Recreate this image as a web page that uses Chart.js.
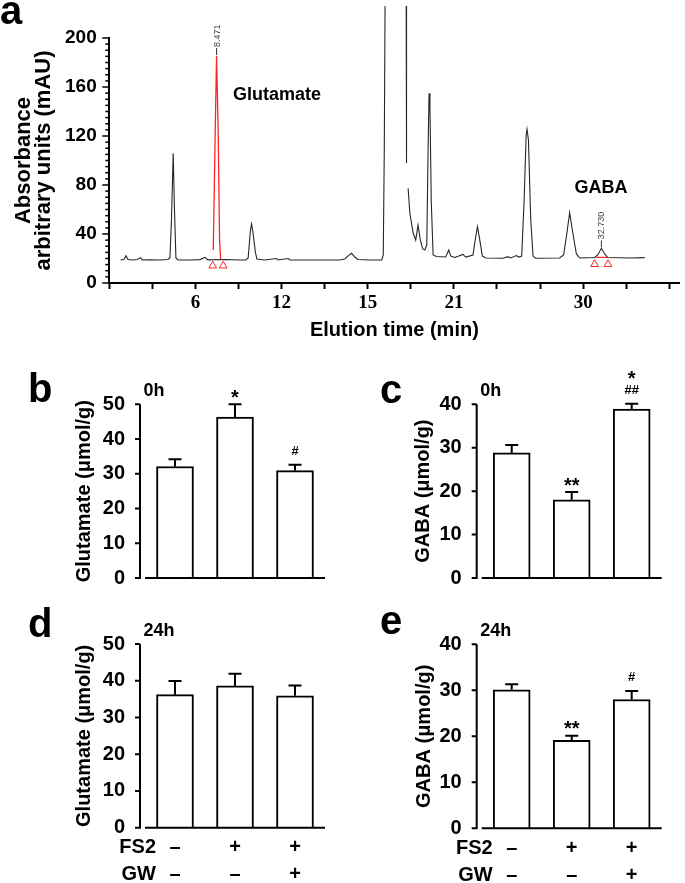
<!DOCTYPE html>
<html>
<head>
<meta charset="utf-8">
<script src="https://cdn.jsdelivr.net/npm/chart.js@4.4.1/dist/chart.umd.min.js"></script>
<style>
  html, body { margin: 0; padding: 0; background: #fff; }
  #fig { position: relative; width: 685px; height: 883px; overflow: hidden; background: #fff; }
  #fig canvas { position: absolute; }
</style>
</head>
<body>
<div id="fig">
  <canvas id="chartA" width="685" height="345" style="left:0;top:0"></canvas>
  <canvas id="chartB" width="340" height="250" style="left:0;top:360px"></canvas>
  <canvas id="chartC" width="345" height="250" style="left:340px;top:360px"></canvas>
  <canvas id="chartD" width="340" height="288" style="left:0;top:595px"></canvas>
  <canvas id="chartE" width="345" height="288" style="left:340px;top:595px"></canvas>
</div>
<script>
(function () {
  'use strict';

  // ---- panel a: chromatogram (x in axis units, 3 units per tick) ----
  const TRACE_T = [0.79, 1.02, 1.16, 1.30, 1.65, 1.93, 2.19, 2.28, 2.83, 3.53, 4.08, 4.22, 4.33, 4.45, 4.54, 4.64, 4.78, 5.62, 6.31, 6.66, 6.87, 8.12, 9.10, 9.51, 9.67, 9.83, 9.91, 10.00, 10.07, 10.17, 10.28, 10.84, 11.65, 11.74, 12.46, 12.57, 13.27, 16.05, 16.40, 16.61, 16.87, 17.10, 17.31, 18.14, 18.98, 19.08, 19.15, 19.22, 20.67, 20.70, 20.75, 20.81, 20.93, 21.16, 21.34, 21.50, 21.66, 21.83, 21.97, 22.11, 22.20, 22.27, 22.33, 22.42, 22.55, 22.78, 23.43, 23.64, 23.78, 24.06, 24.63, 24.82, 25.33, 25.48, 25.64, 25.78, 25.98, 26.21, 27.40, 27.77, 27.95, 28.35, 28.51, 28.72, 28.89, 29.03, 29.09, 29.19, 29.35, 29.51, 29.69, 31.36, 31.64, 31.85, 32.06, 32.27, 32.53, 32.76, 33.80, 34.01, 34.27, 34.50, 34.72, 36.24, 37.28];
  const TRACE_A = [18.8, 19.2, 22.3, 19.2, 18.8, 19.2, 20.7, 18.8, 18.9, 18.8, 19.2, 20.4, 51.4, 105.9, 59.6, 20.4, 18.8, 18.8, 19.1, 21.0, 18.9, 19.2, 18.8, 18.9, 20.4, 43.3, 48.2, 41.6, 35.1, 25.3, 19.6, 18.8, 20.0, 18.8, 20.0, 18.8, 18.8, 18.8, 19.6, 22.0, 24.2, 21.2, 19.2, 18.8, 18.9, 22.9, 108.6, 260, 260, 98.0, null, 77.3, 57.1, 40.8, 35.1, 47.3, 35.1, 27.8, 26.9, 31.0, 108.6, 154.9, 143.9, 67.8, 22.9, 21.6, 21.2, 26.9, 22.0, 20.8, 23.3, 21.2, 22.9, 35.1, 46.0, 36.7, 22.0, 20.4, 20.2, 21.5, 20.4, 22.4, 21.2, 22.0, 67.8, 120.8, 125.5, 116.7, 51.4, 22.0, 20.2, 20.4, 22.9, 39.2, 57.4, 41.6, 23.7, 20.4, 20.8, 22.9, 28.3, 23.7, 20.8, 20.4, 20.7];
  const GLU_PEAK_T = [7.24, 7.39, 7.47, 7.58, 7.68, 7.75];
  const GLU_PEAK_A = [26.9, 133.1, 185.3, 124.9, 35.1, 19.6];
  const GABA_BASE_T = [33.92, 34.66];
  const GABA_BASE_A = [21.0, 21.0];
  const MARK_T = [7.20, 7.93, 33.80, 34.73];
  const MARK_A = [14.1, 14.1, 15.3, 15.3];
  const PEAK_LABELS = ['8.471', '32.730'];
  const PEAK_T = [7.47, 34.27];
  const PEAK_A = [185.3, 28.3];
  const X_TICK_LABELS = ['', '', '6', '', '12', '', '15', '', '21', '', '', '30', '', ''];

  // ---- panels b-e: bars (mean, SEM, significance marks) ----
  const GROUPS = ['Control', 'FS2', 'FS2 + GW'];
  const FS2_ROW = ['–', '+', '+'];
  const GW_ROW = ['–', '–', '+'];
  const GLU_0H = [32.1, 46.3, 30.9];
  const GLU_0H_SEM = [2.1, 3.7, 1.7];
  const GLU_0H_SIG = [[], ['*'], ['#']];
  const GABA_0H = [28.8, 18.0, 38.9];
  const GABA_0H_SEM = [1.85, 1.8, 1.2];
  const GABA_0H_SIG = [[], ['**'], ['##', '*']];
  const GLU_24H = [36.2, 38.6, 35.9];
  const GLU_24H_SEM = [3.7, 3.3, 2.8];
  const GLU_24H_SIG = [[], [], []];
  const GABA_24H = [30.1, 19.1, 28.0];
  const GABA_24H_SEM = [1.2, 1.0, 1.85];
  const GABA_24H_SIG = [[], ['**'], ['#']];

  const SANS = '"Liberation Sans", Arial, Helvetica, sans-serif';
  const SERIF = '"Liberation Serif", "Times New Roman", serif';
  const RED = '#ff2424';

  Chart.defaults.font.family = SANS;
  Chart.defaults.color = '#000';

  const pts = (xs, ys) => xs.map((x, i) => ({ x, y: ys[i] }));

  const chromDeco = {
    id: 'chromDeco',
    afterDraw(chart) {
      const { ctx, chartArea: ca, scales: { x, y } } = chart;
      ctx.save();
      // y ticks, minor every 5
      ctx.strokeStyle = '#000';
      ctx.lineWidth = 1.5;
      for (let v = 0; v <= 200; v += 5) {
        const py = y.getPixelForValue(v);
        const len = v % 40 === 0 ? 7 : 4;
        ctx.beginPath();
        ctx.moveTo(ca.left - len, py);
        ctx.lineTo(ca.left, py);
        ctx.stroke();
      }
      // retention time labels over the two peaks
      PEAK_LABELS.forEach((txt, i) => {
        const px = x.getPixelForValue(PEAK_T[i]);
        const top = y.getPixelForValue(PEAK_A[i]);
        ctx.strokeStyle = '#333';
        ctx.lineWidth = 1;
        ctx.beginPath();
        ctx.moveTo(px, top - 1);
        ctx.lineTo(px, top - 8);
        ctx.stroke();
        ctx.save();
        ctx.translate(px + 0.5, top - 9);
        ctx.rotate(-Math.PI / 2);
        ctx.font = '9px ' + SANS;
        ctx.fillStyle = '#444';
        ctx.textAlign = 'left';
        ctx.textBaseline = 'middle';
        ctx.fillText(txt, 0, 0);
        ctx.restore();
      });
      // compound names
      ctx.fillStyle = '#000';
      ctx.font = 'bold 18px ' + SANS;
      ctx.textAlign = 'left';
      ctx.textBaseline = 'alphabetic';
      ctx.fillText('Glutamate', x.getPixelForValue(8.61), y.getPixelForValue(149.4));
      ctx.fillText('GABA', x.getPixelForValue(32.4), y.getPixelForValue(73.5));
      // panel letter
      ctx.font = 'bold 40px ' + SANS;
      ctx.fillText('a', 0, 24);
      ctx.restore();
    }
  };

  new Chart(document.getElementById('chartA'), {
    type: 'line',
    data: {
      datasets: [
        { data: pts(TRACE_T, TRACE_A), borderColor: '#262626', borderWidth: 1.1, pointRadius: 0, tension: 0,
          clip: { left: 0, top: 32, right: 0, bottom: 0 } },
        { data: pts(GLU_PEAK_T, GLU_PEAK_A), borderColor: RED, borderWidth: 1.3, pointRadius: 0, tension: 0 },
        { data: pts(GABA_BASE_T, GABA_BASE_A), borderColor: RED, borderWidth: 1.2, pointRadius: 0 },
        { data: pts(MARK_T, MARK_A), showLine: false, pointStyle: 'triangle', pointRadius: 4.5,
          pointBorderColor: RED, pointBackgroundColor: '#fff', pointBorderWidth: 1 }
      ]
    },
    options: {
      responsive: false,
      animation: false,
      layout: { padding: { top: 38, left: 0, right: 5, bottom: 2 } },
      plugins: { legend: { display: false }, tooltip: { enabled: false } },
      scales: {
        x: {
          type: 'linear', min: 0, max: 39.71,
          afterBuildTicks: s => { s.ticks = X_TICK_LABELS.map((_, i) => ({ value: i * 3 })); },
          ticks: { callback: (v, i) => X_TICK_LABELS[i], autoSkip: false, maxRotation: 0, padding: 3,
                   font: { family: SERIF, size: 19, weight: 'bold' }, color: '#000' },
          grid: { drawOnChartArea: false, tickLength: 6, tickWidth: 2, tickColor: '#000' },
          border: { width: 2, color: '#000' },
          title: { display: true, text: 'Elution time (min)', color: '#000',
                   font: { size: 20, weight: 'bold' }, padding: { top: 0, bottom: 1 } },
          afterFit: s => { s.height = 60; }
        },
        y: {
          min: 0, max: 200,
          ticks: { stepSize: 40, padding: 12.6, font: { size: 19, weight: 'bold' }, color: '#000' },
          grid: { display: false, drawTicks: false },
          border: { width: 2, color: '#000' },
          title: { display: true, text: ['Absorbance', 'arbitrary units (mAU)'], color: '#000',
                   font: { size: 22, weight: 'bold', lineHeight: 0.92 }, padding: { top: 14, bottom: 0 } },
          afterFit: s => { s.width = 109.3; }
        }
      }
    },
    plugins: [chromDeco]
  });

  function barPanel(id, o) {
    const deco = {
      id: 'barDeco',
      afterDraw(chart) {
        const { ctx, chartArea: ca, scales: { x, y } } = chart;
        const axisX = ca.left - 5;
        ctx.save();
        ctx.strokeStyle = '#000';
        ctx.fillStyle = '#000';
        ctx.lineWidth = 2;
        // offset y axis with outward ticks, x axis
        ctx.beginPath();
        ctx.moveTo(axisX, ca.top);
        ctx.lineTo(axisX, ca.bottom + 1);
        y.ticks.forEach(t => {
          const py = y.getPixelForValue(t.value);
          ctx.moveTo(axisX - 5, py);
          ctx.lineTo(axisX, py);
        });
        ctx.moveTo(ca.left, ca.bottom);
        ctx.lineTo(ca.right, ca.bottom);
        ctx.stroke();
        // SEM bars and significance marks
        o.values.forEach((v, i) => {
          const cx = x.getPixelForValue(i);
          const y0 = y.getPixelForValue(v);
          const y1 = y.getPixelForValue(v + o.sem[i]);
          ctx.beginPath();
          ctx.moveTo(cx, y0);
          ctx.lineTo(cx, y1);
          ctx.moveTo(cx - 6.5, y1);
          ctx.lineTo(cx + 6.5, y1);
          ctx.stroke();
          let cursor = y1;
          o.sig[i].forEach(s => {
            const star = s[0] === '*';
            ctx.font = star ? 'bold 20px ' + SANS : 'bold 13px ' + SANS;
            const m = ctx.measureText(s);
            const h = m.actualBoundingBoxAscent + m.actualBoundingBoxDescent;
            const bottom = cursor - (star ? 6.5 : 9.5);
            ctx.textAlign = 'center';
            ctx.textBaseline = 'alphabetic';
            ctx.fillText(s, cx, bottom - m.actualBoundingBoxDescent);
            cursor = bottom - h;
          });
        });
        ctx.textAlign = 'left';
        ctx.textBaseline = 'alphabetic';
        ctx.font = 'bold 18px ' + SANS;
        ctx.fillText(o.hour, axisX + 3.5, ca.top - 8.5);
        ctx.font = 'bold 40px ' + SANS;
        ctx.fillText(o.letter, o.letterX, o.letterY);
        if (o.rows) {
          ctx.font = 'bold 20px ' + SANS;
          ctx.textAlign = 'right';
          ctx.textBaseline = 'middle';
          ['FS2', 'GW'].forEach((t, k) => ctx.fillText(t, axisX + 16, ca.bottom + 6.5 + 13.5 + k * 27));
        }
        ctx.restore();
      }
    };

    return new Chart(document.getElementById(id), {
      type: 'bar',
      data: {
        labels: GROUPS,
        datasets: [{ data: o.values, backgroundColor: '#fff', borderColor: '#000', borderWidth: 2, barThickness: 37 }]
      },
      options: {
        responsive: false,
        animation: false,
        layout: { padding: { left: o.padLeft, top: o.top, right: o.padRight, bottom: 0 } },
        plugins: { legend: { display: false }, tooltip: { enabled: false } },
        scales: {
          x: {
            grid: { display: false, drawTicks: false },
            border: { display: false },
            ticks: { display: o.rows, padding: 6.5, maxRotation: 0, minRotation: 0, autoSkip: false,
                     font: { size: 20, weight: 'bold', lineHeight: 1.35 }, color: '#000',
                     callback: (v, i) => [FS2_ROW[i], GW_ROW[i]] },
            afterFit: s => { s.height = o.xHeight; }
          },
          y: {
            min: 0, max: o.max,
            ticks: { stepSize: 10, padding: 20, font: { size: 20, weight: 'bold' }, color: '#000' },
            grid: { display: false, drawTicks: false },
            border: { display: false },
            title: { display: true, text: o.title, color: '#000', font: { size: 20, weight: 'bold' }, padding: 0 },
            afterFit: s => { s.width = o.yWidth; }
          }
        }
      },
      plugins: [deco]
    });
  }

  barPanel('chartB', { values: GLU_0H, sem: GLU_0H_SEM, sig: GLU_0H_SIG, max: 50, title: 'Glutamate (μmol/g)',
    hour: '0h', letter: 'b', letterX: 28, letterY: 42, rows: false,
    padLeft: 72, yWidth: 73, top: 44.3, padRight: 15, xHeight: 22.3 });
  barPanel('chartC', { values: GABA_0H, sem: GABA_0H_SEM, sig: GABA_0H_SIG, max: 40, title: 'GABA (μmol/g)',
    hour: '0h', letter: 'c', letterX: 40, letterY: 43, rows: false,
    padLeft: 71, yWidth: 70.7, top: 44.3, padRight: 23.3, xHeight: 21.7 });
  barPanel('chartD', { values: GLU_24H, sem: GLU_24H_SEM, sig: GLU_24H_SIG, max: 50, title: 'Glutamate (μmol/g)',
    hour: '24h', letter: 'd', letterX: 28, letterY: 42, rows: true,
    padLeft: 72, yWidth: 73, top: 49, padRight: 15, xHeight: 55.3 });
  barPanel('chartE', { values: GABA_24H, sem: GABA_24H_SEM, sig: GABA_24H_SIG, max: 40, title: 'GABA (μmol/g)',
    hour: '24h', letter: 'e', letterX: 40, letterY: 39, rows: true,
    padLeft: 72, yWidth: 69.7, top: 49.3, padRight: 23.3, xHeight: 54.7 });
})();
</script>
</body>
</html>
